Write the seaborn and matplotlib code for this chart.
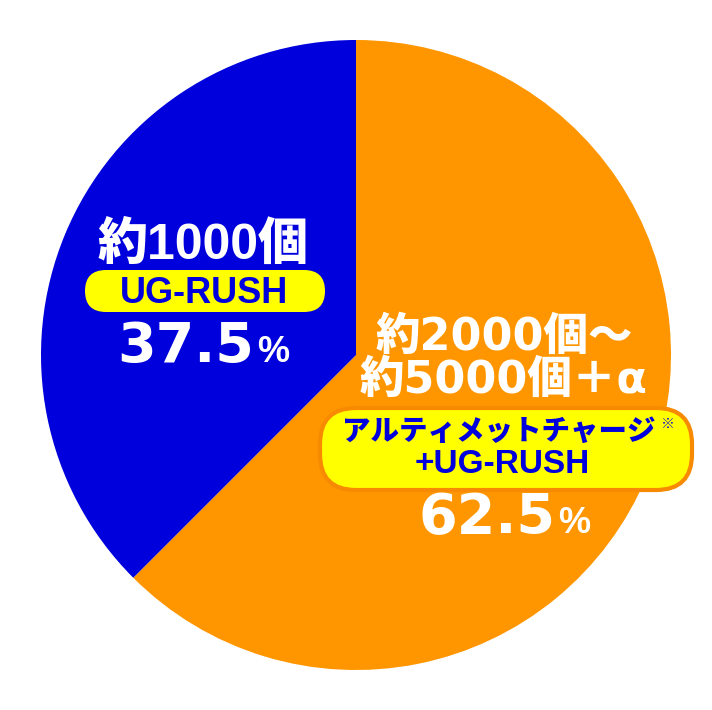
import matplotlib
matplotlib.use("Agg")
import matplotlib.pyplot as plt
from matplotlib.patches import FancyBboxPatch
import seaborn as sns

# data
labels = ["アルティメットチャージ+UG-RUSH", "UG-RUSH"]
shares = [62.5, 37.5]
colors = ["#FF9600", "#0000DC"]
blue_count = "約1000個"
orange_count = ["約2000個〜", "約5000個＋α"]

W, H = 712, 710
BLUE = "#0000DC"
YELLOW = "#FFFF00"

sns.set_theme(style="white")
plt.rcParams['font.family'] = ['Liberation Sans', 'Noto Sans CJK JP', 'DejaVu Sans']

fig = plt.figure(figsize=(W / 100, H / 100), dpi=100)
ax = fig.add_axes([0, 0, 1, 1])

ax.pie(shares, colors=colors, startangle=90, counterclock=False,
       center=(356, H - 355), radius=315,
       wedgeprops=dict(linewidth=0))
ax.set_xlim(0, W)
ax.set_ylim(0, H)
ax.set_aspect('equal')
ax.axis('off')


def Y(y):
    return H - y


lib = ['Liberation Sans', 'Noto Sans CJK JP']
dv = ['DejaVu Sans', 'Noto Sans CJK JP']
jp = ['Noto Sans CJK JP', 'DejaVu Sans']

# blue side
ax.text(203, Y(259), blue_count, ha='center', va='baseline', color='white',
        fontsize=36, fontweight='black', family=lib)
ax.add_patch(FancyBboxPatch((85, Y(312)), 240, 42,
                            boxstyle="round,pad=0,rounding_size=21",
                            fc=YELLOW, ec='none'))
ax.text(204, Y(303), labels[1], ha='center', va='baseline', color=BLUE,
        fontsize=26, fontweight='bold', family=lib)
ax.text(254, Y(362), f"{shares[1]}", ha='right', va='baseline', color='white',
        fontsize=40, fontweight='bold', family=dv)
ax.text(257, Y(362), "%", ha='left', va='baseline', color='white',
        fontsize=26, fontweight='bold', family=lib)

# orange side
ax.text(504, Y(350), orange_count[0], ha='center', va='baseline', color='white',
        fontsize=32, fontweight='black', family=dv)
ax.text(504, Y(393), orange_count[1], ha='center', va='baseline', color='white',
        fontsize=32, fontweight='black', family=dv)
ax.add_patch(FancyBboxPatch((320, Y(490)), 372, 82,
                            boxstyle="round,pad=0,rounding_size=36",
                            fc=YELLOW, ec='#F78A00', lw=3))
ax.text(499, Y(440), "アルティメットチャージ", ha='center', va='baseline', color=BLUE,
        fontsize=20.5, fontweight='black', family=jp)
ax.text(661, Y(428), "※", ha='left', va='baseline', color=BLUE,
        fontsize=10, fontweight='bold', family=jp)
ax.text(502, Y(473), "+UG-RUSH", ha='center', va='baseline', color=BLUE,
        fontsize=24, fontweight='bold', family=lib)
ax.text(555, Y(533), f"{shares[0]}", ha='right', va='baseline', color='white',
        fontsize=40, fontweight='bold', family=dv)
ax.text(558, Y(533), "%", ha='left', va='baseline', color='white',
        fontsize=26, fontweight='bold', family=lib)

fig.savefig("out.png", dpi=100)
